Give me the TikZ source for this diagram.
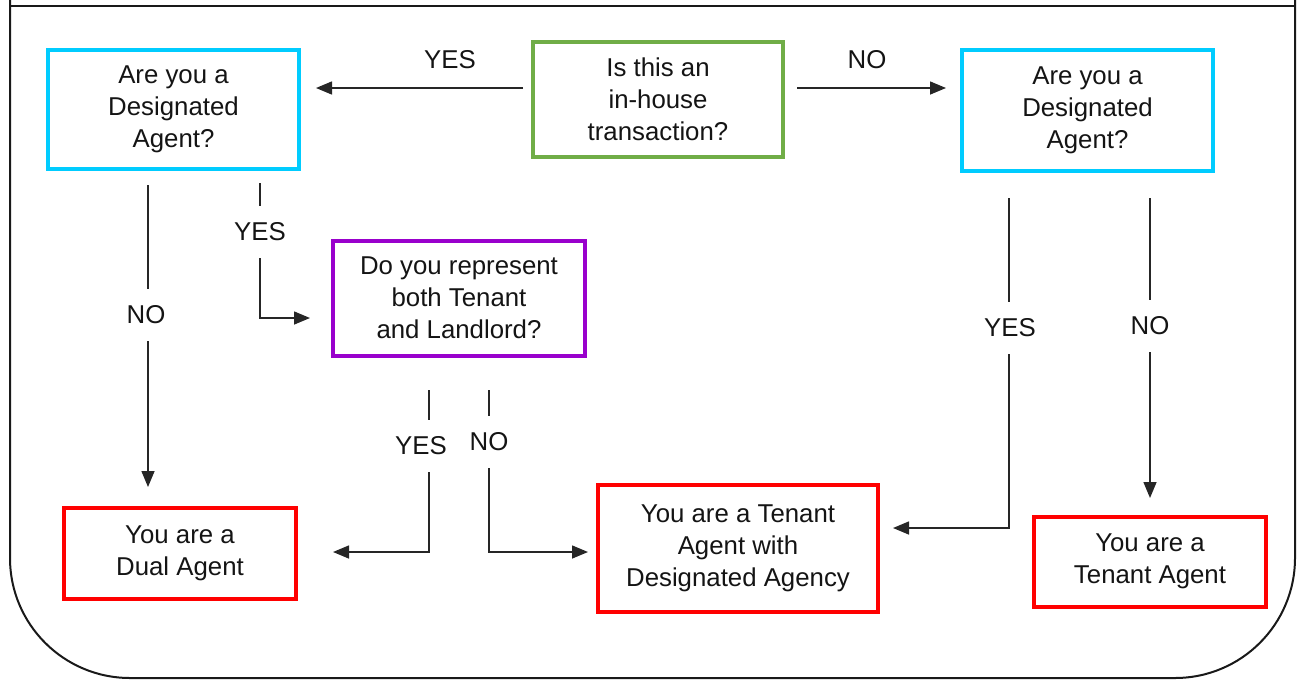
\documentclass[tikz,border=0pt]{standalone}
\usepackage{fontspec}
\setmainfont{Liberation Sans}
\usetikzlibrary{arrows.meta}
\definecolor{cyanbox}{RGB}{0,204,255}
\definecolor{greenbox}{RGB}{112,173,71}
\definecolor{purplebox}{RGB}{153,0,204}
\definecolor{redbox}{RGB}{255,0,0}
\definecolor{txt}{RGB}{20,20,20}
\tikzset{
  box/.style={draw, line width=4pt, rectangle, align=center, text=txt,
    font=\fontsize{25.8}{32}\selectfont, inner sep=0pt},
  lbl/.style={text=txt, font=\fontsize{25.8}{30}\selectfont, inner sep=0pt,
    minimum height=52pt, minimum width=40pt},
  conn/.style={draw=black!85, line width=1.5pt},
  arr/.style={conn, -{Triangle[length=16pt,width=13pt]}},
  frame/.style={draw=black!90, line width=2pt}
}
\begin{document}
\begin{tikzpicture}[x=1pt,y=-1pt]
\useasboundingbox (0,0) rectangle (1301,681);
% outer frame
\draw[frame, rounded corners=120pt] (10,-5) -- (10,678) -- (1295,678) -- (1295,-5);
\draw[frame] (10,6) -- (1295,6);

% boxes
\node[box, draw=greenbox, minimum width=250pt, minimum height=115pt] (q1) at (658,99.5)
  {Is this an\\in-house\\transaction?};
\node[box, draw=cyanbox, minimum width=251pt, minimum height=119pt] (qL) at (173.5,109)
  {Are you a\\Designated\\Agent?};
\node[box, draw=cyanbox, minimum width=251pt, minimum height=121pt] (qR) at (1087.5,110)
  {Are you a\\Designated\\Agent?};
\node[box, draw=purplebox, minimum width=252pt, minimum height=115pt] (qP) at (459,298)
  {Do you represent\\both Tenant\\and Landlord?};
\node[box, draw=redbox, minimum width=232pt, minimum height=91pt] (rDual) at (180,553)
  {You are a\\Dual Agent};
\node[box, draw=redbox, minimum width=280pt, minimum height=127pt] (rDes) at (738,548)
  {You are a Tenant\\Agent with\\Designated Agency};
\node[box, draw=redbox, minimum width=232pt, minimum height=90pt] (rTen) at (1150,561.5)
  {You are a\\Tenant Agent};

% free-end coordinates
\coordinate (a1) at (523,88);
\coordinate (a2) at (316,88);
\coordinate (b1) at (797,88);
\coordinate (b2) at (946,88);
\coordinate (c1) at (148,185);
\coordinate (c2) at (148,487);
\coordinate (d1) at (260,183);
\coordinate (d2) at (310,318);
\coordinate (e1) at (429,390);
\coordinate (e2) at (333,552);
\coordinate (f1) at (489,390);
\coordinate (f2) at (588,552);
\coordinate (g1) at (1009,198);
\coordinate (g2) at (893,528);
\coordinate (h1) at (1150,198);
\coordinate (h2) at (1150,498);

% labels
\node[lbl] (lTopYes) at (450,60) {YES};
\node[lbl] (lTopNo) at (867,60) {NO};
\node[lbl] (lLNo) at (146,315) {NO};
\node[lbl] (lLYes) at (260,232) {YES};
\node[lbl] (lPYes) at (421,446) {YES};
\node[lbl] (lPNo) at (489,442) {NO};
\node[lbl] (lRYes) at (1010,328) {YES};
\node[lbl] (lRNo) at (1150,326) {NO};

% connectors
\draw[arr] (a1) -- (a2);
\draw[arr] (b1) -- (b2);
\draw[conn] (c1) -- (c1 |- lLNo.north);
\draw[arr] (c1 |- lLNo.south) -- (c2);
\draw[conn] (d1) -- (d1 |- lLYes.north);
\draw[arr] (d1 |- lLYes.south) |- (d2);
\draw[conn] (e1) -- (e1 |- lPYes.north);
\draw[arr] (e1 |- lPYes.south) |- (e2);
\draw[conn] (f1) -- (f1 |- lPNo.north);
\draw[arr] (f1 |- lPNo.south) |- (f2);
\draw[conn] (g1) -- (g1 |- lRYes.north);
\draw[arr] (g1 |- lRYes.south) |- (g2);
\draw[conn] (h1) -- (h1 |- lRNo.north);
\draw[arr] (h1 |- lRNo.south) -- (h2);
\end{tikzpicture}
\end{document}
